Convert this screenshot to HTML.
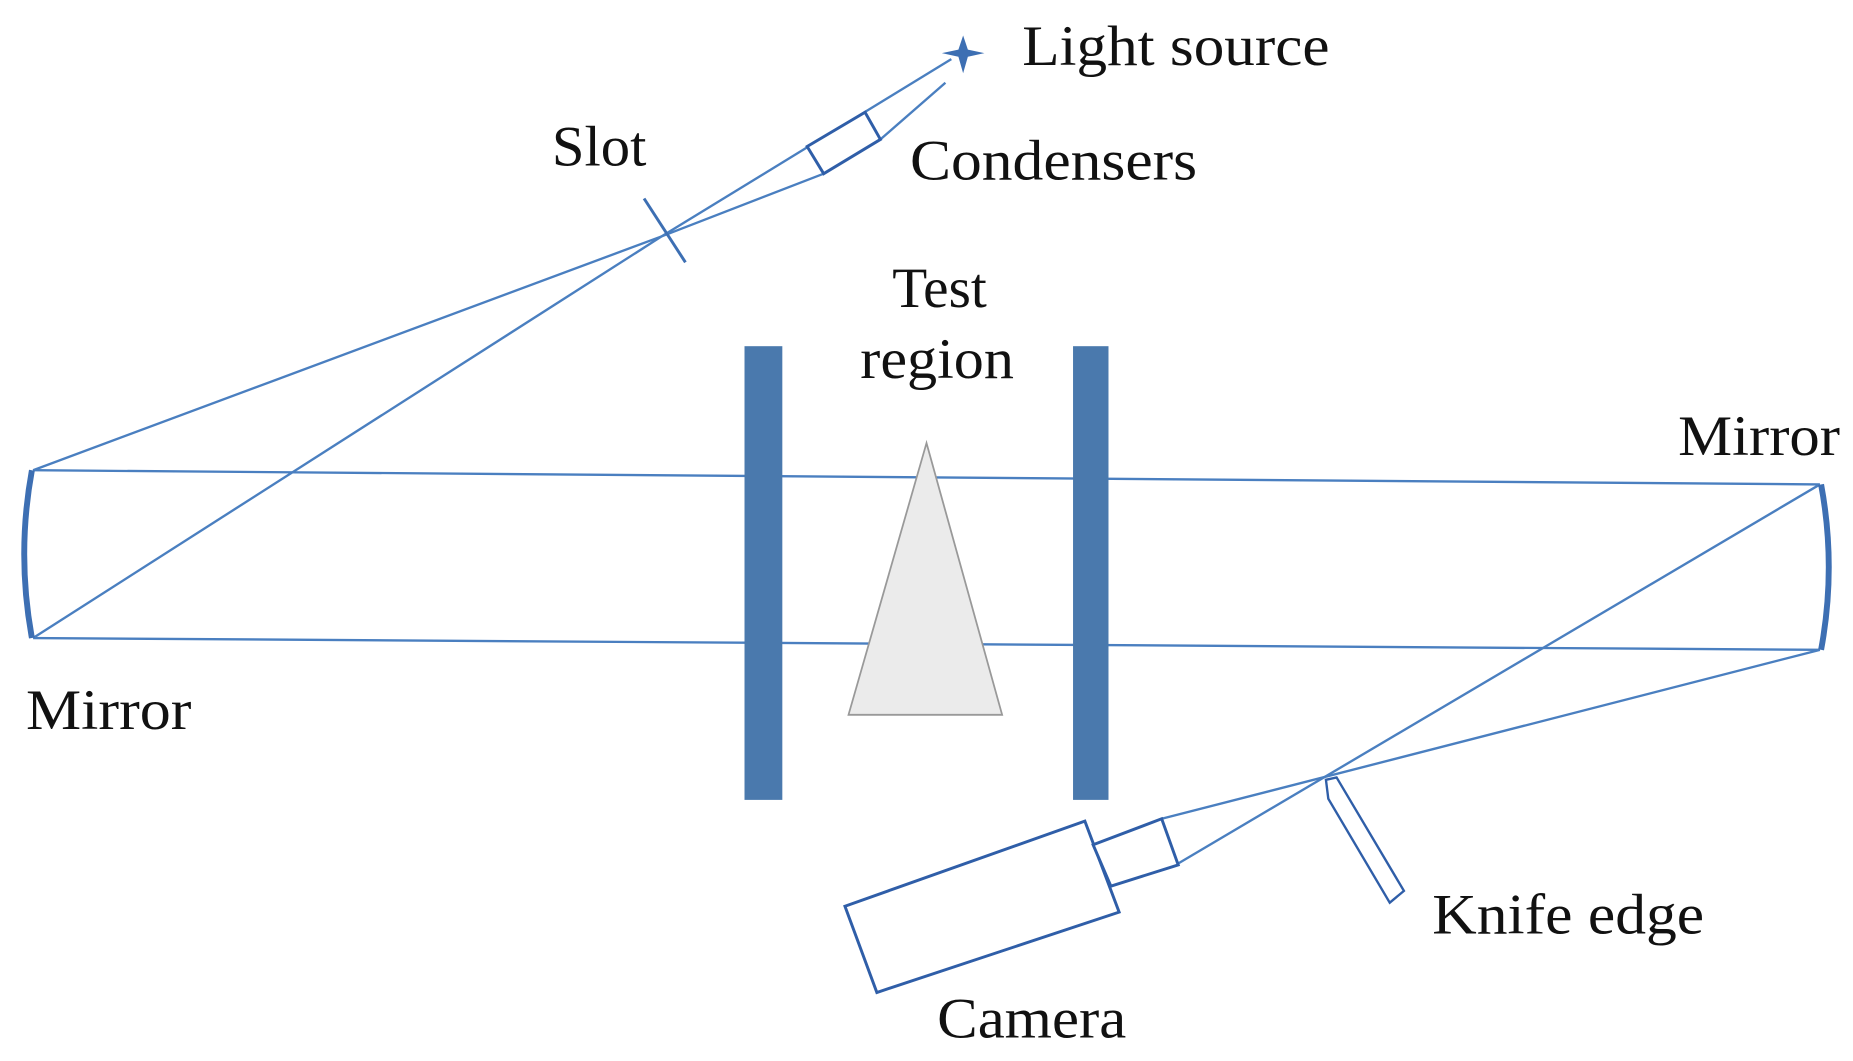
<!DOCTYPE html>
<html><head><meta charset="utf-8"><style>
html,body{margin:0;padding:0;background:#fff;overflow:hidden}
svg{display:block}
text{font-family:"Liberation Serif",serif;fill:#111;font-size:48px}
</style></head><body>
<svg width="1853" height="1061" viewBox="0 0 1568 898" preserveAspectRatio="none" xmlns="http://www.w3.org/2000/svg">
<g fill="none" stroke="#4a7fc0" stroke-width="2">
  <line x1="805" y1="50" x2="560" y2="200"/>
  <line x1="800" y1="70" x2="745" y2="118"/>
  <line x1="697" y1="147" x2="560" y2="200"/>
  <line x1="560" y1="200" x2="28" y2="398"/>
  <line x1="560" y1="200" x2="28" y2="540"/>
  <line x1="28" y1="398" x2="1540" y2="410"/>
  <line x1="28" y1="540" x2="1540" y2="550"/>
  <line x1="1540" y1="410" x2="995" y2="732"/>
  <line x1="1540" y1="550" x2="983" y2="693"/>
</g>
<polygon points="683,124 732,95 745,118 697,147" fill="#fff" stroke="#2f5ea8" stroke-width="2.5"/>
<line x1="545" y1="168" x2="580" y2="222" stroke="#3d6fb3" stroke-width="2.5"/>
<path d="M815,30 L819,42 L833,45 L819,48 L815,62 L811,48 L797,45 L811,42 Z" fill="#3d6fb3"/>
<path d="M27,398 Q14,469 27,540" fill="none" stroke="#3d6fb3" stroke-width="5"/>
<path d="M1541,410 Q1554,480 1541,550" fill="none" stroke="#3d6fb3" stroke-width="5"/>
<rect x="630" y="293" width="32" height="384" fill="#4a79ad"/>
<rect x="908" y="293" width="30" height="384" fill="#4a79ad"/>
<polygon points="784,375 718,605 848,605" fill="#ebebeb" stroke="#999" stroke-width="1.5"/>
<polygon points="715,767 918,695 947,772 742,840" fill="#fff" stroke="#2f5ea8" stroke-width="2.5"/>
<polygon points="925,715 983,693 997,732 940,750" fill="#fff" stroke="#2f5ea8" stroke-width="2.5"/>
<polygon points="1122,660 1131,658 1188,754 1176,764 1124,676" fill="#fff" stroke="#2f5ea8" stroke-width="2"/>
<g lengthAdjust="spacingAndGlyphs">
<text x="865" y="55" textLength="260" lengthAdjust="spacingAndGlyphs">Light source</text>
<text x="467" y="140" textLength="80" lengthAdjust="spacingAndGlyphs">Slot</text>
<text x="770" y="152" textLength="243" lengthAdjust="spacingAndGlyphs">Condensers</text>
<text x="755" y="260" textLength="80" lengthAdjust="spacingAndGlyphs">Test</text>
<text x="728" y="320" textLength="130" lengthAdjust="spacingAndGlyphs">region</text>
<text x="1420" y="385" textLength="137" lengthAdjust="spacingAndGlyphs">Mirror</text>
<text x="22" y="617" textLength="140" lengthAdjust="spacingAndGlyphs">Mirror</text>
<text x="1212" y="790" textLength="230" lengthAdjust="spacingAndGlyphs">Knife edge</text>
<text x="793" y="878" textLength="160" lengthAdjust="spacingAndGlyphs">Camera</text>
</g>
</svg>
</body></html>
